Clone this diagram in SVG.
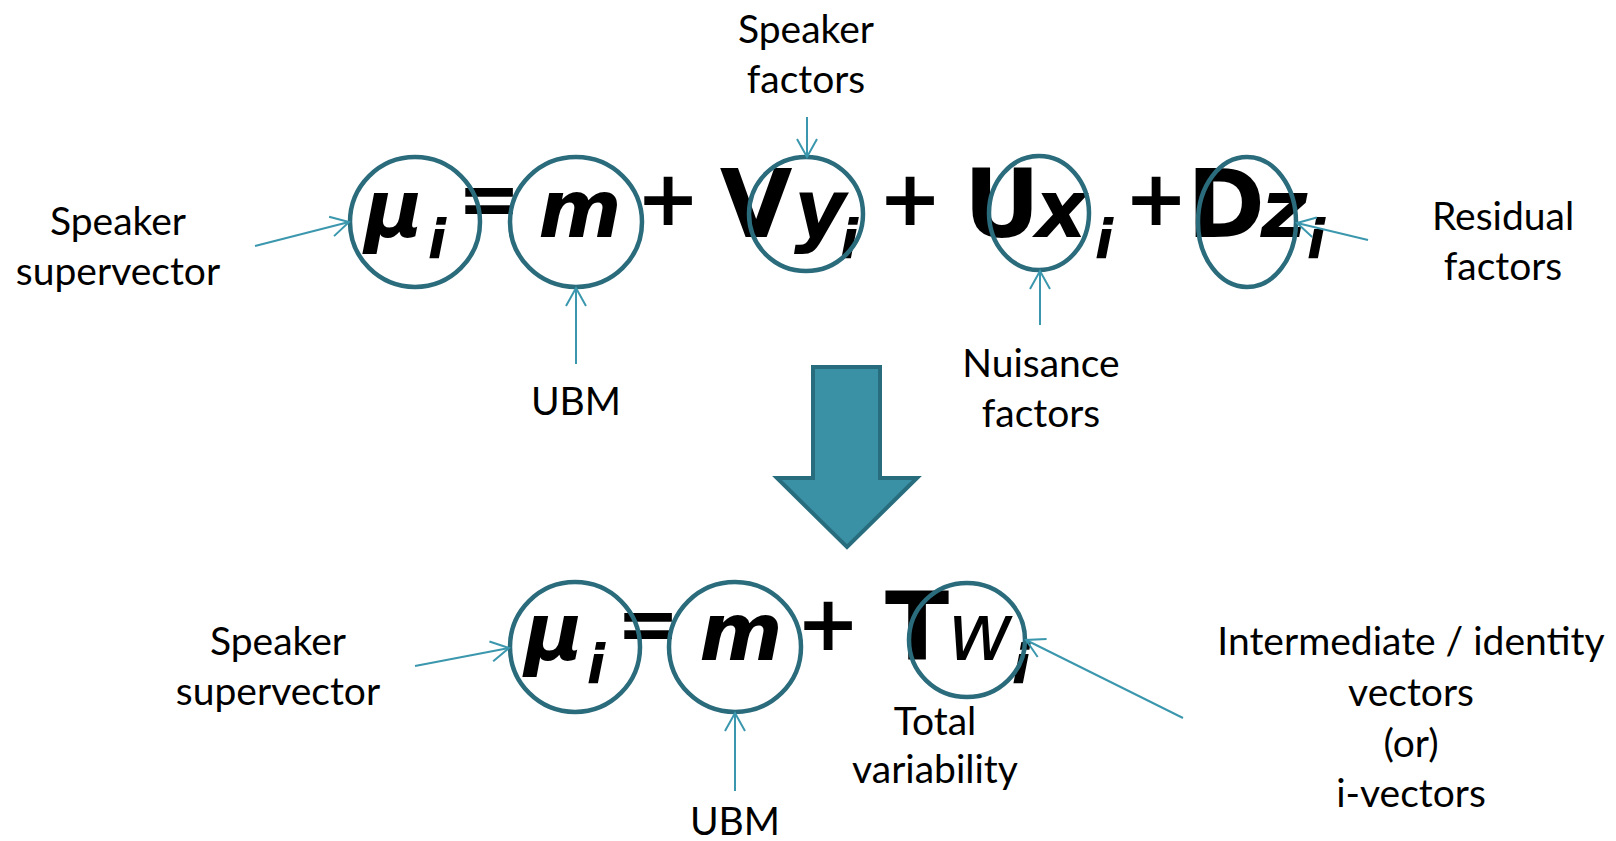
<svg xmlns="http://www.w3.org/2000/svg" width="1616" height="841" viewBox="0 0 1616 841">
  <style>
    .lbl { font-family: Lato, "Open Sans", sans-serif; font-size: 39px; fill: #000; text-anchor: middle; }
    .eq { font-family: "DejaVu Sans", Verdana, sans-serif; font-weight: bold; fill: #000; text-anchor: middle; }
    .cap { font-size: 94px; }
    .var { font-size: 80px; font-style: italic; }
    .sub { font-size: 54px; font-style: italic; }
    .op { font-size: 76px; }
    .ring { fill: none; stroke: #2a6b7c; stroke-width: 4.5; }
    .conn line { stroke: #3b97ad; stroke-width: 2; marker-end: url(#open); }
  </style>
  <defs>
    <marker id="open" markerUnits="userSpaceOnUse" markerWidth="24" markerHeight="24" viewBox="-20 -12 24 24" refX="0" refY="0" orient="auto">
      <path d="M-18,-10 L0,0 L-18,10" fill="none" stroke="#3b97ad" stroke-width="2"/>
    </marker>
  </defs>
  <rect width="1616" height="841" fill="#fff"/>

  <!-- Upper equation: mu_i = m + V y_i + U x_i + D z_i -->
  <g id="eq-top" class="eq">
    <text class="var" x="394" y="237">μ</text>
    <text class="sub" x="437" y="258">i</text>
    <text class="op" x="489" y="225">=</text>
    <text class="var" x="580" y="237">m</text>
    <text class="op" x="668" y="225">+</text>
    <text class="cap" x="756" y="237">V</text>
    <text class="var" x="820" y="237">y</text>
    <text class="sub" x="849" y="258">i</text>
    <text class="op" x="910" y="225">+</text>
    <text class="cap" x="1002" y="237">U</text>
    <text class="var" x="1061" y="237">x</text>
    <text class="sub" x="1104" y="258">i</text>
    <text class="op" x="1156" y="225">+</text>
    <text class="cap" x="1226" y="237">D</text>
    <text class="var" x="1284" y="237">z</text>
    <text class="sub" x="1316" y="258">i</text>
  </g>

  <!-- Highlight rings, upper equation -->
  <g id="ring-mu-top"><ellipse class="ring" cx="415" cy="222" rx="65" ry="65"/></g>
  <g id="ring-m-top"><ellipse class="ring" cx="576" cy="222" rx="66" ry="65"/></g>
  <g id="ring-vy"><ellipse class="ring" cx="806" cy="214" rx="57" ry="57"/></g>
  <g id="ring-ux"><ellipse class="ring" cx="1039" cy="213" rx="50" ry="57"/></g>
  <g id="ring-dz"><ellipse class="ring" cx="1247" cy="222" rx="49" ry="65"/></g>

  <!-- Labels, upper equation -->
  <g id="lbl-supervector-top">
    <text class="lbl" x="118" y="235">Speaker</text>
    <text class="lbl" x="118" y="285">supervector</text>
  </g>
  <g id="lbl-speaker-factors">
    <text class="lbl" x="806" y="43">Speaker</text>
    <text class="lbl" x="806" y="93">factors</text>
  </g>
  <g id="lbl-ubm-top">
    <text class="lbl" x="576" y="415">UBM</text>
  </g>
  <g id="lbl-nuisance">
    <text class="lbl" x="1041" y="377">Nuisance</text>
    <text class="lbl" x="1041" y="427">factors</text>
  </g>
  <g id="lbl-residual">
    <text class="lbl" x="1503" y="230">Residual</text>
    <text class="lbl" x="1503" y="280">factors</text>
  </g>

  <!-- Block arrow between the two equations -->
  <g id="down-arrow">
    <path d="M813,367 L880,367 L880,478 L917,478 L847,547 L777,478 L813,478 Z" fill="#3a91a6" stroke="#286d7d" stroke-width="4" stroke-linejoin="miter"/>
  </g>

  <!-- Lower equation: mu_i = m + T w_i -->
  <g id="eq-bottom" class="eq">
    <text class="var" x="554" y="660">μ</text>
    <text class="sub" x="596" y="683">i</text>
    <text class="op" x="648" y="650">=</text>
    <text class="var" x="741" y="660">m</text>
    <text class="op" x="828" y="650">+</text>
    <text class="cap" x="917" y="660">T</text>
    <text class="var" x="980" y="660" style="font-weight:normal">w</text>
    <text class="sub" x="1021" y="683">i</text>
  </g>

  <!-- Highlight rings, lower equation -->
  <g id="ring-mu-bottom"><ellipse class="ring" cx="575" cy="647" rx="65" ry="65"/></g>
  <g id="ring-m-bottom"><ellipse class="ring" cx="735" cy="647" rx="66" ry="65"/></g>
  <g id="ring-tw"><ellipse class="ring" cx="967" cy="640" rx="58" ry="57"/></g>

  <!-- Labels, lower equation -->
  <g id="lbl-supervector-bottom">
    <text class="lbl" x="278" y="655">Speaker</text>
    <text class="lbl" x="278" y="705">supervector</text>
  </g>
  <g id="lbl-ubm-bottom">
    <text class="lbl" x="735" y="835">UBM</text>
  </g>
  <g id="lbl-total">
    <text class="lbl" x="935" y="735">Total</text>
    <text class="lbl" x="935" y="783">variability</text>
  </g>
  <g id="lbl-ivector">
    <text class="lbl" x="1411" y="655">Intermediate / identity</text>
    <text class="lbl" x="1411" y="706">vectors</text>
    <text class="lbl" x="1411" y="757">(or)</text>
    <text class="lbl" x="1411" y="807">i-vectors</text>
  </g>

  <!-- Pointer connectors -->
  <g id="connectors" class="conn">
    <line x1="255" y1="246" x2="349" y2="222"/>
    <line x1="807" y1="117" x2="807" y2="157"/>
    <line x1="576" y1="364" x2="576" y2="288"/>
    <line x1="1040" y1="325" x2="1040" y2="271"/>
    <line x1="1368" y1="240" x2="1297" y2="223"/>
    <line x1="415" y1="666" x2="509" y2="648"/>
    <line x1="735" y1="791" x2="735" y2="713"/>
    <line x1="1183" y1="718" x2="1026" y2="640"/>
  </g>
</svg>
